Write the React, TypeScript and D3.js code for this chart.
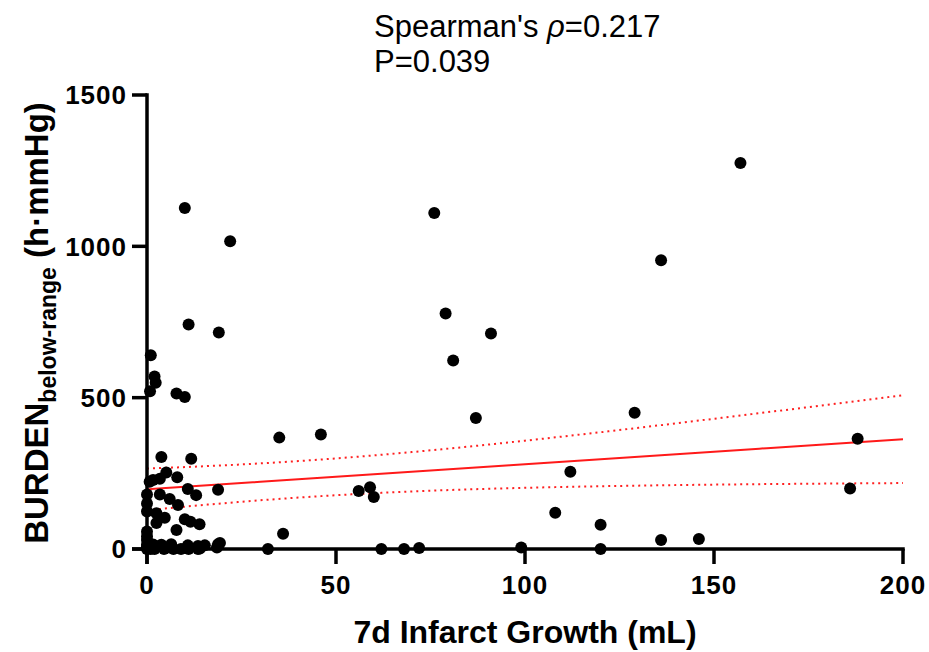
import React from "react";
import * as d3 from "d3";

// Data: [7d infarct growth (mL), burden (h·mmHg)]
const growth: number[] = [
  157, 136, 129, 188, 186, 112, 108, 120, 120, 136, 146,
  76, 79, 91, 81, 87, 35, 46, 56, 59, 60, 36, 32, 62, 68, 72, 99,
  10, 22, 11, 19,
  1, 2, 2.3, 0.8, 7.8, 10,
  3.8, 11.7, 5.1, 8, 1.6, 3.4, 0.7,
  10.8, 18.8, 13, 3.4, 6, 0, 0, 8.2, 0, 2.5, 4.7, 2.5, 10, 11.5, 13.9, 7.8, 0, 0,
  0, 1.6, 3.8, 6.4, 10.8, 13.5, 15.3, 18.8, 19.3,
  0, 2, 4.5, 7, 11, 13.5, 18.5, 0.5, 1, 0, 5, 9, 14, 0,
];
const burden: number[] = [
  1275, 954, 450, 364, 200, 255, 120, 80, 0, 30, 33,
  1110, 778, 712, 623, 433, 368, 378, 192, 204, 172, 50, 0, 0, 0, 3, 5,
  1127, 1017, 742, 715,
  640, 570, 549, 521, 514, 502,
  304, 298, 253, 237, 228, 232, 222,
  198, 196, 178, 180, 165, 180, 150, 145, 124, 118, 103, 86, 98, 90, 82, 63, 58, 30,
  14, 15, 14, 16, 12, 10, 12, 16, 20,
  0, 0, 0, 0, 0, 0, 5, 3, 0, 8, 3, 0, 2, 42,
];

// Fitted line (intercept, slope) and 95% band parameters (min half-width², curvature, x at minimum)
const fitCoef: number[] = [197, 0.83];
const bandCoef: number[] = [3637, 0.685, 40.5];

const xTicks: number[] = [0, 50, 100, 150, 200];
const yTicks: number[] = [0, 500, 1000, 1500];

export default function App() {
  const W = 929;
  const H = 652;
  const x = d3.scaleLinear().domain([0, 200]).range([147, 903]);
  const y = d3.scaleLinear().domain([0, 1500]).range([549, 95]);

  const xs = d3.range(0, 200.01, 2);
  const fit = (v: number) => fitCoef[0] + fitCoef[1] * v;
  const half = (v: number) =>
    Math.sqrt(bandCoef[0] + bandCoef[1] * (v - bandCoef[2]) * (v - bandCoef[2]));
  const line = d3
    .line<number>()
    .x((d) => x(d))
    .y((d) => y(fit(d)));
  const upper = d3
    .line<number>()
    .x((d) => x(d))
    .y((d) => y(fit(d) + half(d)));
  const lower = d3
    .line<number>()
    .x((d) => x(d))
    .y((d) => y(fit(d) - half(d)));

  const font = "'Liberation Sans', Arial, sans-serif";
  const tickLen = 15;
  const sw = 3.5;

  return (
    <svg
      width={W}
      height={H}
      viewBox={`0 0 ${W} ${H}`}
      style={{ position: "absolute", left: 0, top: 0, background: "#fff" }}
      fontFamily={font}
    >
      {/* title */}
      <text x={374} y={37} fontSize={31} fill="#000">
        Spearman's{" "}
        <tspan fontStyle="italic">ρ</tspan>=0.217
      </text>
      <text x={374} y={72} fontSize={31} fill="#000">
        P=0.039
      </text>

      {/* regression + band */}
      <path d={upper(xs) || ""} fill="none" stroke="#ff2020" strokeWidth={2} strokeDasharray="2,4" />
      <path d={lower(xs) || ""} fill="none" stroke="#ff2020" strokeWidth={2} strokeDasharray="2,4" />
      <path d={line(xs) || ""} fill="none" stroke="#ff1a1a" strokeWidth={2} />

      {/* points */}
      {growth.map((g, i) => (
        <circle key={i} cx={x(g)} cy={y(burden[i])} r={6} fill="#000" />
      ))}

      {/* y axis */}
      <line x1={x(0)} x2={x(0)} y1={y(1500) - sw / 2} y2={y(0) + tickLen} stroke="#000" strokeWidth={sw} />
      {yTicks.map((t) => (
        <g key={t}>
          <line x1={x(0) - tickLen} x2={x(0)} y1={y(t)} y2={y(t)} stroke="#000" strokeWidth={sw} />
          <text
            x={x(0) - 20}
            y={y(t)}
            dy="0.36em"
            textAnchor="end"
            fontSize={26}
            fontWeight="bold"
            letterSpacing={1}
          >
            {t}
          </text>
        </g>
      ))}

      {/* x axis */}
      <line x1={x(0) - tickLen} x2={x(200) + sw / 2} y1={y(0)} y2={y(0)} stroke="#000" strokeWidth={sw} />
      {xTicks.map((t) => (
        <g key={t}>
          <line x1={x(t)} x2={x(t)} y1={y(0)} y2={y(0) + tickLen} stroke="#000" strokeWidth={sw} />
          <text x={x(t)} y={594} textAnchor="middle" fontSize={26} fontWeight="bold" letterSpacing={1}>
            {t}
          </text>
        </g>
      ))}

      {/* axis titles */}
      <text x={525} y={643} textAnchor="middle" fontSize={32} fontWeight="bold">
        7d Infarct Growth (mL)
      </text>
      <text
        transform={`translate(48, 323) rotate(-90)`}
        textAnchor="middle"
        fontSize={33}
        fontWeight="bold"
      >
        BURDEN
        <tspan fontSize={23} dy={8}>below-range</tspan>
        <tspan dy={-8}> (h·mmHg)</tspan>
      </text>
    </svg>
  );
}
